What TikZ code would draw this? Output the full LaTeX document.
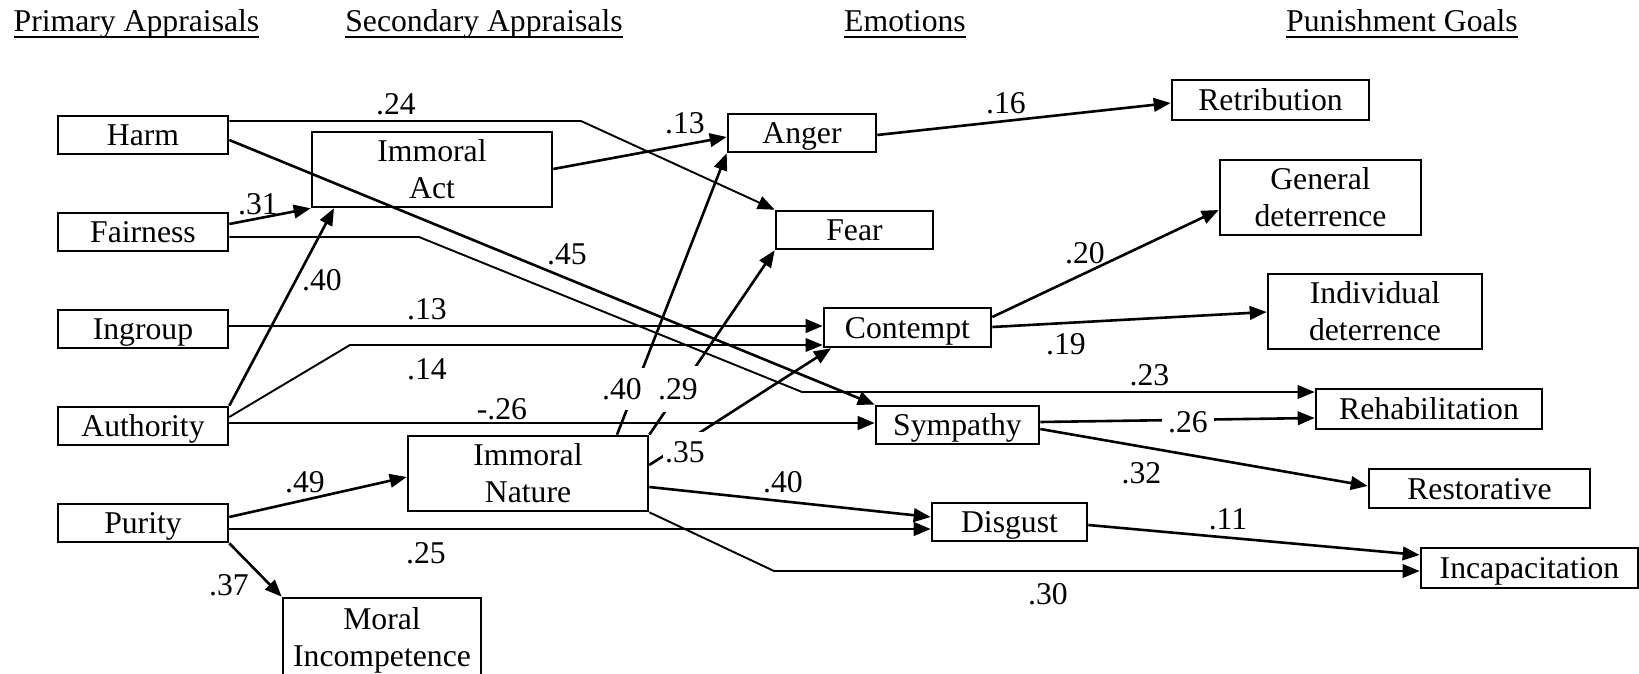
\documentclass[tikz,border=0pt]{standalone}
\usepackage{fontspec}
\setmainfont{Liberation Serif}
\usetikzlibrary{arrows.meta}
% underlined column heading
\newcommand\colhead[1]{\setbox0\hbox{#1}\rlap{\rule[-6.2pt]{\wd0}{2.3pt}}\box0}
\begin{document}
\begin{tikzpicture}[x=1pt,y=-1pt,
  every node/.style={font=\fontsize{31.7}{36.5}\selectfont},
  box/.style={draw,line width=2.6pt,inner sep=0pt,text height=21pt,text depth=0pt},
  box2/.style={box,align=center,text height=57.5pt,text depth=0pt},
  lab/.style={inner sep=0pt},
  gap/.style={fill=white},
  arr/.style={line width=2.6pt,-{Triangle[length=17pt,width=13.5pt]}},
  elbow/.style={line width=1.9pt}]
\useasboundingbox (0,0) rectangle (1639,674);
\clip (0,0) rectangle (1639,674);

% column headings
\node[anchor=base] (hprim) at (136.5,32) {\colhead{Primary Appraisals}};
\node[anchor=base] (hsec)  at (484,32)   {\colhead{Secondary Appraisals}};
\node[anchor=base] (hemo)  at (905,32)   {\colhead{Emotions}};
\node[anchor=base] (hgoal) at (1402,32)  {\colhead{Punishment Goals}};

% primary appraisals
\node[box,minimum width=170pt,minimum height=38pt] (harm) at (143,135) {Harm};
\node[box,minimum width=170pt,minimum height=38pt] (fair) at (143,232) {Fairness};
\node[box,minimum width=170pt,minimum height=38pt] (ingr) at (143,329) {Ingroup};
\node[box,minimum width=170pt,minimum height=38pt] (auth) at (143,426) {Authority};
\node[box,minimum width=170pt,minimum height=38pt] (pur)  at (143,523) {Purity};

% secondary appraisals
\node[box2,minimum width=240pt,minimum height=75pt] (imact) at (432,169.5) {Immoral\\Act};
\node[box2,minimum width=240pt,minimum height=75pt] (imnat) at (528,473.5) {Immoral\\Nature};
\node[box2,minimum width=198pt,minimum height=79pt] (moral) at (382,637.5) {Moral\\Incompetence};

% emotions
\node[box,minimum width=148pt,minimum height=38pt] (anger) at (802,133) {Anger};
\node[box,minimum width=157pt,minimum height=38pt] (fear) at (854.5,230) {Fear};
\node[box,minimum width=167pt,minimum height=39pt] (cont) at (907.5,327.5) {Contempt};
\node[box,minimum width=163pt,minimum height=38pt] (symp) at (957.5,425) {Sympathy};
\node[box,minimum width=155pt,minimum height=38pt] (disg) at (1009.5,522) {Disgust};

% punishment goals
\node[box,minimum width=197pt,minimum height=40pt] (retr) at (1270.5,100) {Retribution};
\node[box2,minimum width=201pt,minimum height=75pt] (gen) at (1320.5,197.5) {General\\deterrence};
\node[box2,minimum width=214pt,minimum height=75pt] (ind) at (1375,311.5) {Individual\\deterrence};
\node[box,minimum width=226pt,minimum height=40pt] (rehab) at (1429,409) {Rehabilitation};
\node[box,minimum width=221pt,minimum height=39pt] (rest) at (1479.5,488.5) {Restorative};
\node[box,minimum width=217pt,minimum height=40pt] (incap) at (1529.5,568) {Incapacitation};

% paths from primary appraisals
\draw[arr,elbow] (harm.east |- 0,121) -- (581,121) -- (fear.north west);
\draw[arr] (harm.east |- 0,140) -- (symp.north west);
\draw[arr] (fair.east |- 0,224) -- (imact.south west);
\draw[arr,elbow] (fair.east |- 0,237) -- (419,237) -- (802,392) -- (rehab.west |- 0,392);
\draw[arr] (ingr.east |- 0,326) -- (cont.west |- 0,326);
\draw[arr] (auth.north east) -- (334,0 |- imact.south);
\draw[arr,elbow] (auth.east |- 0,417) -- (350,345) -- (cont.west |- 0,345);
\draw[arr] (auth.east |- 0,423) -- (symp.west |- 0,423);
\draw[arr] (pur.east |- 0,517) -- (imnat.west |- 0,477);
\draw[arr] (pur.east |- 0,529) -- (disg.west |- 0,529);
\draw[arr] (pur.south east) -- (moral.north west);

% paths from secondary appraisals
\draw[arr] (imact.east |- 0,169) -- (anger.west |- 0,137);
\draw[arr] (617,0 |- imnat.north) -- (anger.south west);
\draw[arr] (imnat.north east) -- (fear.south west);
\draw[arr] (imnat.east |- 0,465) -- (831,0 |- cont.south);
\draw[arr] (imnat.east |- 0,487) -- (disg.west |- 0,517);
\draw[arr,elbow] (imnat.south east) -- (774,571) -- (incap.west |- 0,571);

% paths from emotions
\draw[arr] (anger.east |- 0,135) -- (retr.west |- 0,103);
\draw[arr] (cont.east |- 0,317) -- (gen.west |- 0,210);
\draw[arr] (cont.east |- 0,327) -- (ind.west |- 0,312);
\draw[arr] (symp.east |- 0,422) -- (rehab.west |- 0,418);
\draw[arr] (symp.east |- 0,429) -- (rest.west |- 0,486);
\draw[arr] (disg.east |- 0,525) -- (incap.west |- 0,555);

% path coefficients
\node[lab] (c24)  at (396,104)  {.24};
\node[lab] (c31)  at (258,204)  {.31};
\node[lab] (c40a) at (322,280)  {.40};
\node[lab] (c45)  at (567,254)  {.45};
\node[lab] (c13a) at (427,309)  {.13};
\node[lab] (c14)  at (427,369)  {.14};
\node[lab] (c26a) at (502,409)  {-.26};
\node[lab] (c49)  at (305,482)  {.49};
\node[lab] (c25)  at (426,553)  {.25};
\node[lab] (c37)  at (229,585)  {.37};
\node[lab] (c13b) at (685,123)  {.13};
\node[lab] (c16)  at (1006,103) {.16};
\node[lab,gap,inner xsep=5pt,inner ysep=10pt] (c40b) at (622,389) {.40};
\node[lab,gap,inner xsep=2pt,inner ysep=12pt] (c29)  at (678,389) {.29};
\node[lab,gap,inner xsep=2.5pt,inner ysep=9.5pt] (c35) at (685,452) {.35};
\node[lab] (c40c) at (783,482)  {.40};
\node[lab] (c30)  at (1048,594) {.30};
\node[lab] (c20)  at (1085,253) {.20};
\node[lab] (c19)  at (1066,344) {.19};
\node[lab] (c23)  at (1149.5,375) {.23};
\node[lab,gap,inner xsep=6pt,inner ysep=4pt] (c26b) at (1188,422) {.26};
\node[lab] (c32)  at (1141.5,473) {.32};
\node[lab] (c11)  at (1228,519) {.11};
\end{tikzpicture}
\end{document}
